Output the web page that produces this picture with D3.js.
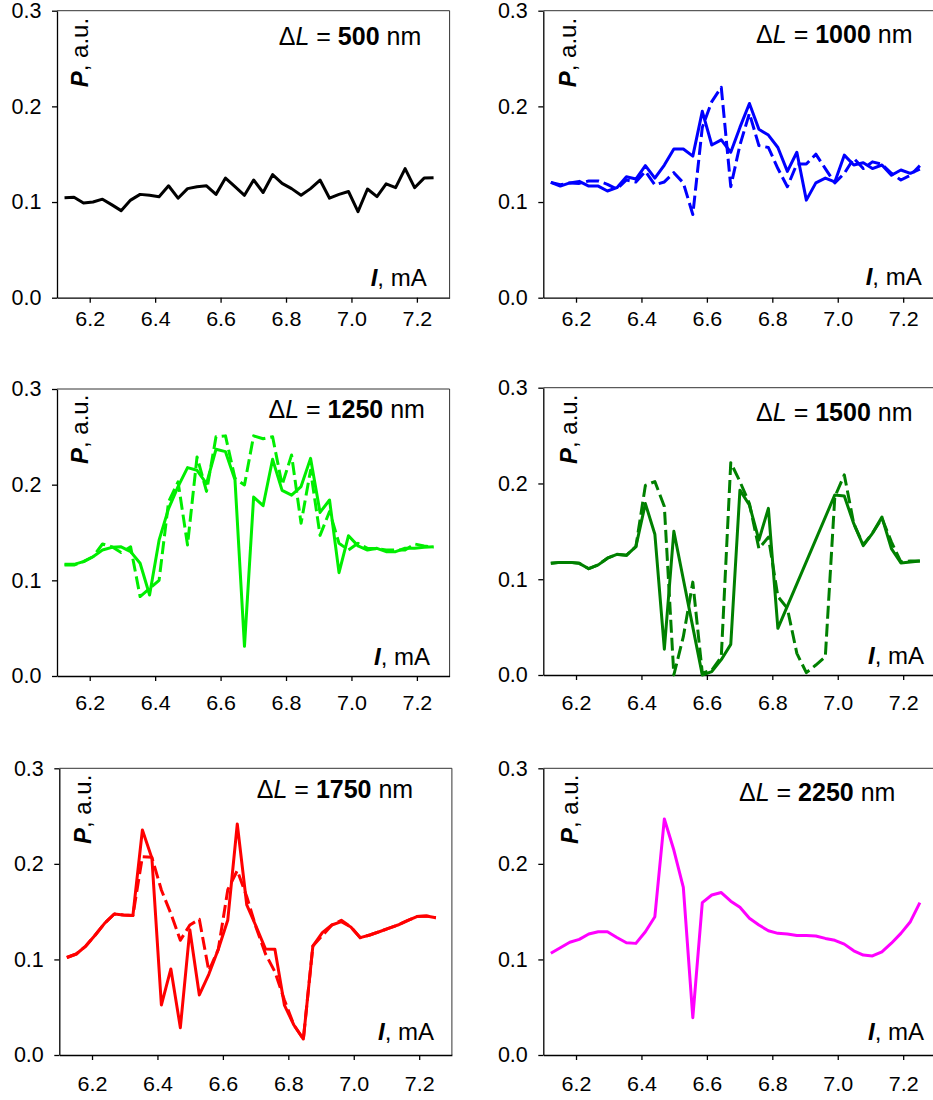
<!DOCTYPE html>
<meta charset="utf-8">
<style>
body { margin: 0; background: #fff; }
svg { font-family: "Liberation Sans", Arial, sans-serif; }
.axis path, .axis line { stroke: #000; stroke-width: 1.3; }
.axis text { font-size: 21.5px; fill: #000; }
.frame { fill: none; stroke: #333; stroke-width: 1; }
.series { fill: none; stroke-width: 3; stroke-linejoin: round; }
.lbl { font-size: 24px; fill: #000; }
.dl { font-size: 25px; fill: #000; }
</style>
<body>
<svg width="933" height="1100"></svg>
<script src="https://d3js.org/d3.v7.min.js"></script>
<script>
// injection current, mA (same sweep in every panel)
var current = [6.123, 6.152, 6.181, 6.210, 6.239, 6.268, 6.296, 6.325, 6.354, 6.383,
               6.412, 6.441, 6.470, 6.499, 6.528, 6.557, 6.586, 6.615, 6.644, 6.673,
               6.701, 6.730, 6.759, 6.788, 6.817, 6.846, 6.875, 6.904, 6.933, 6.962,
               6.991, 7.020, 7.049, 7.078, 7.106, 7.135, 7.164, 7.193, 7.222, 7.251];

var xTicks = [6.2, 6.4, 6.6, 6.8, 7.0, 7.2];
var yTicks = [0.0, 0.1, 0.2, 0.3];

// P, a.u.
var p500 = [0.1045, 0.105, 0.099, 0.100, 0.103, 0.097, 0.091, 0.102, 0.108, 0.107,
            0.1056, 0.117, 0.104, 0.114, 0.116, 0.117, 0.108, 0.125, 0.116, 0.107,
            0.123, 0.110, 0.1286, 0.1195, 0.114, 0.107, 0.114, 0.123, 0.104, 0.108,
            0.111, 0.090, 0.1136, 0.1056, 0.119, 0.115, 0.135, 0.115, 0.125, 0.1254];

var p1000 = [0.1206, 0.1167, 0.120, 0.1216, 0.1167, 0.1167, 0.1115, 0.115, 0.1265, 0.124,
             0.138, 0.125, 0.1387, 0.1554, 0.1554, 0.148, 0.1948, 0.1596, 0.165, 0.152,
             0.178, 0.203, 0.176, 0.170, 0.157, 0.132, 0.152, 0.102, 0.120, 0.125,
             0.121, 0.149, 0.1387, 0.141, 0.135, 0.1387, 0.128, 0.1335, 0.130, 0.1345];
var p1000d = [0.1206, 0.118, 0.120, 0.1195, 0.122, 0.122, 0.1185, 0.1136, 0.123, 0.121,
              0.132, 0.118, 0.121, 0.1307, 0.120, 0.087, 0.178, 0.205, 0.2199, 0.116,
              0.1596, 0.1927, 0.159, 0.157, 0.135, 0.116, 0.1397, 0.1397, 0.150, 0.135,
              0.120, 0.130, 0.1456, 0.135, 0.142, 0.1394, 0.130, 0.123, 0.128, 0.138];

var p1250 = [0.1167, 0.1167, 0.1195, 0.1247, 0.1317, 0.1345, 0.135, 0.130, 0.1178, 0.0847,
             0.142, 0.175, 0.198, 0.2178, 0.215, 0.201, 0.237, 0.2345, 0.205, 0.031,
             0.187, 0.178, 0.2265, 0.194, 0.189, 0.198, 0.2275, 0.171, 0.184, 0.108,
             0.1467, 0.136, 0.1317, 0.1335, 0.130, 0.130, 0.1335, 0.1335, 0.1345, 0.135];
var p1250d = [0.116, 0.116, 0.1195, 0.1247, 0.138, 0.135, 0.129, 0.135, 0.083, 0.0916,
              0.100, 0.182, 0.203, 0.137, 0.229, 0.193, 0.250, 0.251, 0.2066, 0.1997,
              0.251, 0.248, 0.250, 0.1997, 0.231, 0.1596, 0.215, 0.147, 0.172, 0.1387,
              0.1317, 0.1387, 0.1335, 0.133, 0.1317, 0.1317, 0.1317, 0.138, 0.136, 0.1345];

var p1500 = [0.1166, 0.1176, 0.1176, 0.1166, 0.111, 0.115, 0.122, 0.126, 0.125, 0.134,
             0.179, 0.147, 0.027, 0.150, 0.100, 0.050, 0.0, 0.0035, 0.016, 0.032,
             0.193, 0.1775, 0.141, 0.174, 0.0487, null, null, null, null, null,
             0.188, 0.187, 0.158, 0.135, 0.148, 0.165, 0.132, 0.117, 0.118, 0.119];
var p1500d = [0.1166, 0.1176, 0.1176, 0.1166, 0.111, 0.115, 0.122, 0.126, 0.125, 0.134,
              0.198, 0.202, 0.176, 0.0, 0.040, 0.097, 0.002, 0.005, 0.019, 0.2217,
              0.202, 0.179, 0.132, 0.144, 0.082, 0.0696, 0.0226, 0.0024, 0.0104, 0.019,
              0.186, 0.209, 0.158, 0.136, 0.148, 0.1636, 0.139, 0.118, 0.119, 0.119];

var p1750 = [0.102, 0.1057, 0.114, 0.1256, 0.138, 0.1475, 0.1465, 0.146, 0.2354, 0.206,
             0.0523, 0.090, 0.0286, 0.131, 0.0628, 0.0844, 0.1106, 0.1413, 0.2417, 0.157,
             0.135, 0.111, 0.1106, 0.0523, 0.0314, 0.0167, 0.114, 0.128, 0.136, 0.1395,
             0.134, 0.1228, 0.1256, 0.129, 0.1325, 0.136, 0.1406, 0.1448, 0.1455, 0.1437];
var p1750d = [0.102, 0.1057, 0.114, 0.1256, 0.138, 0.1475, 0.1465, 0.146, 0.2075, 0.2068,
              0.1727, 0.148, 0.120, 0.136, 0.142, 0.088, 0.1106, 0.173, 0.193, 0.1657,
              0.134, 0.106, 0.087, 0.0575, 0.0314, 0.0167, 0.114, 0.125, 0.136, 0.141,
              0.134, 0.1228, 0.1256, 0.129, 0.1325, 0.136, 0.1406, 0.1448, 0.1455, 0.1437];

var p2250 = [0.1064, 0.1123, 0.118, 0.121, 0.1266, 0.129, 0.129, 0.123, 0.1175, 0.1168,
             0.129, 0.1447, 0.247, 0.2145, 0.1754, 0.039, 0.1594, 0.1674, 0.170, 0.161,
             0.1545, 0.143, 0.136, 0.130, 0.1273, 0.1266, 0.125, 0.125, 0.1245, 0.122,
             0.120, 0.116, 0.109, 0.1046, 0.1036, 0.108, 0.117, 0.1273, 0.1395, 0.1594];

var dLabels = ["500", "1000", "1250", "1500", "1750", "2250"];
var colors = ["#000000", "#0000ff", "#00ee00", "#008000", "#ff0000", "#ff00ff"];
var solids = [p500, p1000, p1250, p1500, p1750, p2250];
var dashes = [null, p1000d, p1250d, p1500d, p1750d, null];

// panel placement (pixels)
var layout = [
  {x: 57,    top: 10.7,  bottom: 297.7, dlx: 293,   dly: 34.3, ix: 369.7, iy: 12,   px: 30.5, py: 76.6, lt: 14},
  {x: 543.3, top: 10.7,  bottom: 297.7, dlx: 291,   dly: 32,   ix: 378.4, iy: 12.7, px: 32.8, py: 76.6, lt: 14},
  {x: 57,    top: 389,   bottom: 676,   dlx: 289.7, dly: 29.3, ix: 373,   iy: 11,   px: 31.3, py: 75,   lt: 20},
  {x: 543.3, top: 387.7, bottom: 675,   dlx: 291,   dly: 33,   ix: 380.7, iy: 10.7, px: 33.7, py: 76.3, lt: 20.8},
  {x: 59.3,  top: 768.3, bottom: 1055,  dlx: 275.7, dly: 30,   ix: 374.7, iy: 15,   px: 31.4, py: 75.7, lt: 22},
  {x: 543.3, top: 768.3, bottom: 1055,  dlx: 273.9, dly: 32.4, ix: 380.7, iy: 15,   px: 34.7, py: 75.7, lt: 22}
];

var svg = d3.select("svg");
var plotWidth = 392.6;
var fmt = d3.format(".1f");

layout.forEach(function(L, k) {
  var h = L.bottom - L.top;
  var x = d3.scaleLinear().domain([6.1, 7.3]).range([0, plotWidth]);
  var y = d3.scaleLinear().domain([0, 0.3]).range([h, 0]);

  var g = svg.append("g")
      .attr("transform", "translate(" + L.x + "," + L.top + ")");

  // top and right border of the plot area
  g.append("path")
      .attr("class", "frame")
      .attr("d", "M0,0H" + plotWidth + "V" + h);

  var xa = g.append("g")
      .attr("class", "axis")
      .attr("transform", "translate(0," + h + ")")
      .call(d3.axisBottom(x).tickValues(xTicks).tickFormat(fmt).tickSize(5).tickSizeOuter(0));
  xa.selectAll("text")
      .attr("y", 0)
      .attr("dy", null)
      .attr("transform", "translate(0," + (L.lt + 13.8) + ") scale(1,0.9)");

  g.append("g")
      .attr("class", "axis")
      .call(d3.axisLeft(y).tickValues(yTicks).tickFormat(fmt).tickSize(5).tickSizeOuter(0).tickPadding(10.5));

  var line = d3.line()
      .x(function(d) { return x(d[0]); })
      .y(function(d) { return y(d[1]); });

  function pairs(arr) {
    return current.map(function(c, i) { return [c, arr[i]]; })
                  .filter(function(d) { return d[1] != null; });
  }

  if (dashes[k]) {
    g.append("path")
        .attr("class", "series")
        .attr("stroke", colors[k])
        .attr("stroke-dasharray", "13,5")
        .attr("d", line(pairs(dashes[k])));
  }
  g.append("path")
      .attr("class", "series")
      .attr("stroke", colors[k])
      .attr("d", line(pairs(solids[k])));

  // ΔL = ... nm
  var t = g.append("text")
      .attr("class", "dl")
      .attr("text-anchor", "middle")
      .attr("x", L.dlx)
      .attr("y", L.dly);
  t.append("tspan").text("\u0394");
  t.append("tspan").attr("font-style", "italic").text("L");
  t.append("tspan").text(" = ");
  t.append("tspan").attr("font-weight", "bold").text(dLabels[k]);
  t.append("tspan").text(" nm");

  // I, mA
  var ti = g.append("text")
      .attr("class", "lbl")
      .attr("text-anchor", "end")
      .attr("x", L.ix)
      .attr("y", h - L.iy);
  ti.append("tspan").attr("font-weight", "bold").attr("font-style", "italic").text("I");
  ti.append("tspan").text(", mA");

  // P, a.u.
  var tp = g.append("text")
      .attr("class", "lbl")
      .attr("transform", "translate(" + L.px + "," + L.py + ") rotate(-90)");
  tp.append("tspan").attr("font-weight", "bold").attr("font-style", "italic").text("P");
  tp.append("tspan").text(", a.u.");
});
</script>
</body>
